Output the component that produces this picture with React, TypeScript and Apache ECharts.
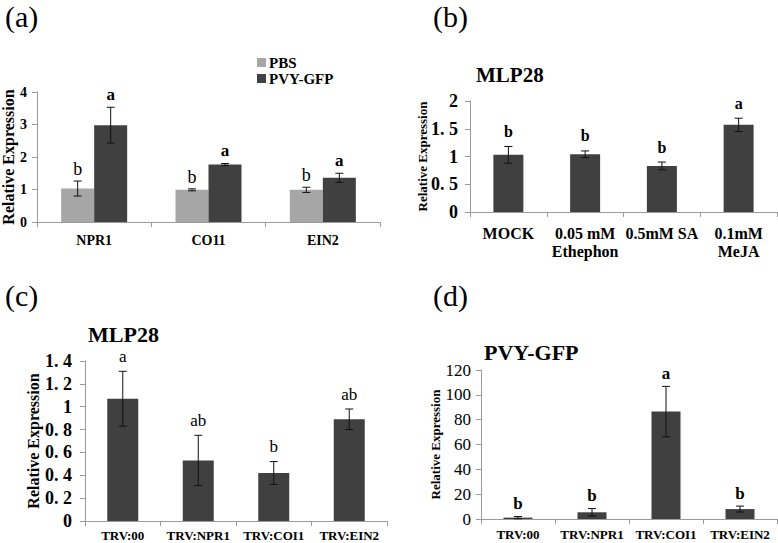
import React, { useEffect, useRef } from "react";
import * as echarts from "echarts";

const FONT = "'Liberation Serif', 'Times New Roman', serif";

// Panel (a)
const catsA = ["NPR1", "CO11", "EIN2"];
const pbsMean = [1.03, 0.99, 0.99];
const pbsErr = [0.23, 0.03, 0.08];
const pvyMean = [2.98, 1.77, 1.36];
const pvyErr = [0.55, 0.03, 0.14];
const pbsLetters = ["b", "b", "b"];
const pvyLetters = ["a", "a", "a"];
const ticksA = { min: 0, max: 4, interval: 1 };

// Panel (b)
const catsB = ["MOCK", "0.05 mM\nEthephon", "0.5mM SA", "0.1mM\nMeJA"];
const meanB = [1.03, 1.04, 0.83, 1.57];
const errB = [0.15, 0.06, 0.07, 0.12];
const lettersB = ["b", "b", "b", "a"];
const ticksB = { min: 0, max: 2, interval: 0.5 };

// Panel (c)
const catsC = ["TRV:00", "TRV:NPR1", "TRV:COI1", "TRV:EIN2"];
const meanC = [1.07, 0.53, 0.42, 0.89];
const errC = [0.24, 0.22, 0.1, 0.09];
const lettersC = ["a", "ab", "b", "ab"];
const ticksC = { min: 0, max: 1.4, interval: 0.2 };

// Panel (d)
const catsD = ["TRV:00", "TRV:NPR1", "TRV:COI1", "TRV:EIN2"];
const meanD = [1.1, 5.4, 86.5, 8.0];
const errD = [0.9, 3.0, 20.3, 2.4];
const lettersD = ["b", "b", "a", "b"];
const ticksD = { min: 0, max: 120, interval: 20 };

const DARK = "#404040";
const LIGHT = "#a6a6a6";
const AXIS = "#9a9a9a";

function spacedDecimal(v: number) {
  const s = String(Math.round(v * 10) / 10);
  return s.replace(".", ".\u00a0");
}

function errSeries(
  idx: number,
  means: number[],
  errs: number[],
  letters: string[],
  offset: number,
  gap: number,
  font: { size: number; weight: string; family?: string }
) {
  return {
    type: "custom",
    xAxisIndex: idx,
    yAxisIndex: idx,
    silent: true,
    z: 10,
    data: means.map((m, i) => [i, m, errs[i]]),
    renderItem: (params: any, api: any) => {
      const i = api.value(0);
      const m = api.value(1);
      const e = api.value(2);
      const top = api.coord([i, m + e]);
      const bot = api.coord([i, m - e]);
      const x = top[0] + offset;
      const hw = 4;
      const ls = { stroke: "#111", lineWidth: 1 };
      return {
        type: "group",
        children: [
          { type: "line", shape: { x1: x, y1: top[1], x2: x, y2: bot[1] }, style: ls },
          { type: "line", shape: { x1: x - hw, y1: top[1], x2: x + hw, y2: top[1] }, style: ls },
          { type: "line", shape: { x1: x - hw, y1: bot[1], x2: x + hw, y2: bot[1] }, style: ls },
          {
            type: "text",
            x: x,
            y: top[1] - gap,
            style: {
              text: letters[params.dataIndex],
              fontSize: font.size,
              fontWeight: font.weight,
              fontFamily: font.family || FONT,
              fill: "#000",
              align: "center",
              verticalAlign: "middle",
            },
          },
        ],
      };
    },
  };
}

function xAxisDef(idx: number, cats: string[], fontSize: number, margin: number, lineHeight?: number) {
  return {
    type: "category",
    gridIndex: idx,
    data: cats,
    axisLine: { show: true, lineStyle: { color: AXIS, width: 1 } },
    axisTick: { show: true, length: 5, lineStyle: { color: AXIS } },
    axisLabel: {
      interval: 0,
      margin,
      color: "#000",
      fontFamily: FONT,
      fontWeight: "bold",
      fontSize,
      lineHeight: lineHeight || fontSize,
    },
    splitLine: { show: false },
  };
}

function yAxisDef(
  idx: number,
  t: { min: number; max: number; interval: number },
  label: { size: number; weight: string; margin: number; fmt?: (v: number) => string },
  name: { size: number; gap: number }
) {
  return {
    type: "value",
    gridIndex: idx,
    min: t.min,
    max: t.max,
    interval: t.interval,
    name: "Relative Expression",
    nameLocation: "middle",
    nameGap: name.gap,
    nameMoveOverlap: false,
    nameTextStyle: { fontFamily: FONT, fontWeight: "bold", fontSize: name.size, color: "#000" },
    axisLine: { show: true, lineStyle: { color: AXIS, width: 1 } },
    axisTick: { show: true, length: 5, lineStyle: { color: AXIS } },
    axisLabel: {
      margin: label.margin,
      color: "#000",
      fontFamily: FONT,
      fontWeight: label.weight,
      fontSize: label.size,
      formatter: label.fmt || ((v: number) => String(v)),
    },
    splitLine: { show: false },
  };
}

export default function App() {
  const ref = useRef<HTMLDivElement>(null);

  useEffect(() => {
    if (!ref.current) return;
    const chart = echarts.init(ref.current, undefined, { renderer: "svg" });

    const panelStyle = { fontFamily: FONT, fontWeight: "normal", fontSize: 30, color: "#000" };
    const option: any = {
      animation: false,
      backgroundColor: "#fff",
      title: [
        { text: "(a)", left: 0, top: -4, textStyle: panelStyle },
        { text: "(b)", left: 428, top: -4, textStyle: panelStyle },
        { text: "(c)", left: 0, top: 275, textStyle: panelStyle },
        { text: "(d)", left: 428, top: 275, textStyle: panelStyle },
        { text: "MLP28", left: 471, top: 59, textStyle: { fontFamily: FONT, fontWeight: "bold", fontSize: 21, color: "#000" } },
        { text: "MLP28", left: 83, top: 318, textStyle: { fontFamily: FONT, fontWeight: "bold", fontSize: 22, color: "#000" } },
        { text: "PVY-GFP", left: 479, top: 336, textStyle: { fontFamily: FONT, fontWeight: "bold", fontSize: 22, color: "#000" } },
      ],
      legend: {
        left: 252,
        top: 50,
        orient: "vertical",
        itemWidth: 9,
        itemHeight: 9,
        itemGap: 1,
        icon: "rect",
        textStyle: { fontFamily: FONT, fontWeight: "bold", fontSize: 15, color: "#000", padding: [0, 0, 0, -2] },
        data: ["PBS", "PVY-GFP"],
      },
      grid: [
        { left: 37, top: 92, width: 343, height: 130, outerBoundsMode: "none" },
        { left: 470, top: 101, width: 307, height: 111, outerBoundsMode: "none" },
        { left: 85, top: 361, width: 302, height: 160, outerBoundsMode: "none" },
        { left: 481, top: 370, width: 296, height: 149, outerBoundsMode: "none" },
      ],
      xAxis: [
        xAxisDef(0, catsA, 14, 11),
        xAxisDef(1, catsB, 16, 12, 18),
        xAxisDef(2, catsC, 13, 8),
        xAxisDef(3, catsD, 13, 9),
      ],
      yAxis: [
        yAxisDef(0, ticksA, { size: 14, weight: "bold", margin: 10 }, { size: 16, gap: 21 }),
        yAxisDef(1, ticksB, { size: 18, weight: "bold", margin: 12, fmt: spacedDecimal }, { size: 13, gap: 41 }),
        yAxisDef(2, ticksC, { size: 18, weight: "bold", margin: 13, fmt: spacedDecimal }, { size: 16, gap: 44 }),
        yAxisDef(3, ticksD, { size: 17, weight: "normal", margin: 10 }, { size: 13, gap: 39 }),
      ],
      series: [
        { name: "PBS", type: "bar", xAxisIndex: 0, yAxisIndex: 0, data: pbsMean, barWidth: 33, barGap: "0%", itemStyle: { color: LIGHT } },
        { name: "PVY-GFP", type: "bar", xAxisIndex: 0, yAxisIndex: 0, data: pvyMean, barWidth: 33, barGap: "0%", itemStyle: { color: DARK } },
        errSeries(0, pbsMean, pbsErr, pbsLetters, -16.5, 12, { size: 18, weight: "normal" }),
        errSeries(0, pvyMean, pvyErr, pvyLetters, 16.5, 13, { size: 17, weight: "bold" }),

        { type: "bar", xAxisIndex: 1, yAxisIndex: 1, data: meanB, barWidth: 30, itemStyle: { color: DARK } },
        errSeries(1, meanB, errB, lettersB, 0, 15, { size: 16, weight: "bold" }),

        { type: "bar", xAxisIndex: 2, yAxisIndex: 2, data: meanC, barWidth: 31, itemStyle: { color: DARK } },
        errSeries(2, meanC, errC, lettersC, 0, 15, { size: 17, weight: "normal" }),

        { type: "bar", xAxisIndex: 3, yAxisIndex: 3, data: meanD, barWidth: 29, itemStyle: { color: DARK } },
        errSeries(3, meanD, errD, lettersD, 0, 13, { size: 17, weight: "bold" }),
      ],
    };

    chart.setOption(option);
    return () => chart.dispose();
  }, []);

  return (
    <div
      ref={ref}
      style={{ position: "absolute", left: 0, top: 0, width: 778, height: 543, background: "#fff" }}
    />
  );
}
